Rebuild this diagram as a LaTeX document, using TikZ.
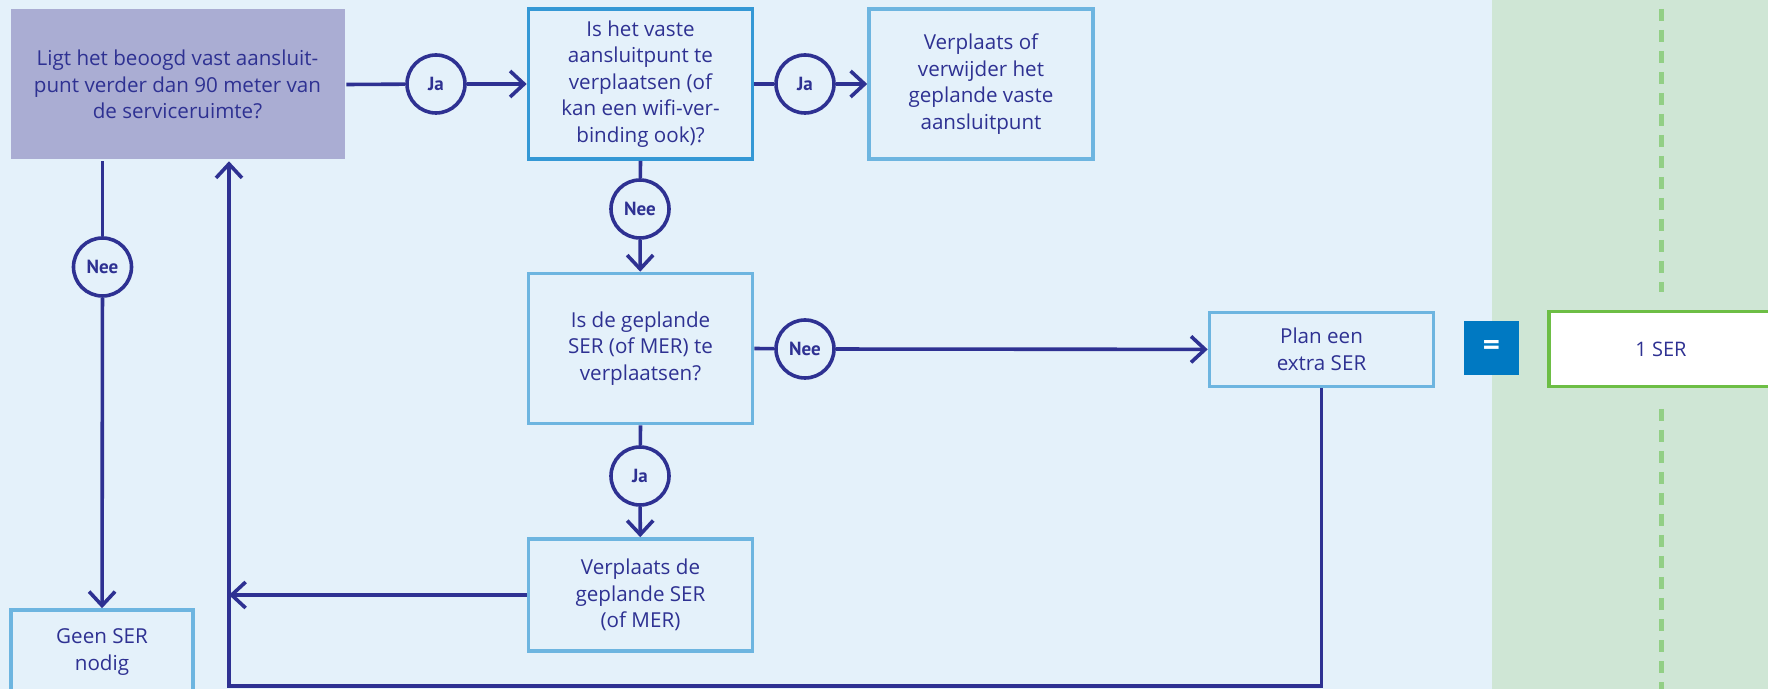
\documentclass[tikz,border=0pt]{standalone}
\usepackage{fontspec}
\setmainfont{Open Sans}
\newfontfamily\eenserfont{Open Sans}
\newfontfamily\keuzefont{PT Sans}
\usetikzlibrary{arrows.meta}
\definecolor{navy}{HTML}{2E3192}
\definecolor{achtergrond}{HTML}{E4F1FA}
\definecolor{groenvlak}{HTML}{CFE6D5}
\definecolor{paars}{HTML}{AAADD3}
\definecolor{donkerblauw}{HTML}{3498D5}
\definecolor{lichtblauw}{HTML}{6DB5E0}
\definecolor{kobalt}{HTML}{0079C2}
\definecolor{groen}{HTML}{6DBE45}
\definecolor{streep}{HTML}{92CF85}
\tikzset{
  >={Straight Barb[length=7pt,width=13pt]},
  {vraag/.style} ={draw=lichtblauw, line width=1.8pt, fill=achtergrond,
                   text=navy, align=center, inner sep=0,
                   minimum width=112pt, minimum height=75pt,
                   font=\fontsize{10.3}{13.3}\selectfont},
  {startvraag/.style} ={vraag, draw=none, fill=paars,
                   minimum width=167pt},
  {keuzevraag/.style} ={vraag, draw=donkerblauw},
  {keuze/.style} ={circle, draw=navy, line width=1.8pt, fill=achtergrond,
                   text=navy, inner sep=0, minimum size=29pt,
                   font=\keuzefont\bfseries\fontsize{9.5}{10}\selectfont},
  {lijn/.style} ={draw=navy, line width=1.8pt},
  {pijl/.style} ={lijn, ->},
  {gelijk/.style} ={fill=kobalt, text=white, inner sep=0,
                   minimum width=27.5pt, minimum height=27pt,
                   font=\bfseries\fontsize{15}{15}\selectfont},
  {uitkomst/.style} ={draw=groen, line width=1.8pt, fill=white, text=navy,
                   inner sep=0, minimum width=112pt, minimum height=37.5pt,
                   font=\eenserfont\fontsize{10}{12}\selectfont},
}

\begin{document}
\begin{tikzpicture}[x=0.5pt,y=-0.5pt]
\useasboundingbox (0,0) rectangle (1768,689);
\fill[achtergrond] (0,0) rectangle (1492,689);
\fill[groenvlak] (1492,0) rectangle (1768,689);
\draw[streep, line width=2.5pt, dash pattern=on 6pt off 4.5pt]
  (1661,9) -- (1661,292) (1661,409) -- (1661,689);

\node[startvraag] (afstand) at (177.5,84.5)
  {Ligt het beoogd vast aansluit-\\punt verder dan 90 meter van\\de serviceruimte?};
\node[keuzevraag] (verplaatsAP) at (640.5,84)
  {Is het vaste\\aansluitpunt te\\verplaatsen (of\\kan een wifi-ver-\\binding ook)?};
\node[vraag] (verwijderAP) at (981,84)
  {Verplaats of\\verwijder het\\geplande vaste\\aansluitpunt};
\node[vraag] (verplaatsSER) at (640.5,348.5)
  {Is de geplande\\SER (of MER) te\\verplaatsen?};
\node[vraag, minimum height=37pt] (extraSER) at (1321.5,349.5)
  {Plan een\\extra SER};
\node[vraag, minimum height=56pt] (verplaatsDe) at (640.5,595)
  {Verplaats de\\geplande SER\\(of MER)};
\node[vraag, minimum width=91pt, minimum height=42pt] (geenSER) at (102,652)
  {Geen SER\\nodig};
\node[gelijk] (is) at (1491.5,348) {=};
\node[uitkomst] (eenSER) at (1661,349) {1 SER};

\node[keuze] (ja1) at (436,84) {Ja};
\node[keuze] (ja2) at (805,84) {Ja};
\node[keuze] (ja3) at (640,476) {Ja};
\node[keuze] (nee1) at (102.5,267) {Nee};
\node[keuze] (nee2) at (640,209) {Nee};
\node[keuze] (nee3) at (805,349) {Nee};
\coordinate (hoek) at (229,686);
\coordinate (terug) at (229,595);

\path[lijn] (afstand.east) edge (ja1)
            (verplaatsAP.east) edge (ja2)
            (verplaatsAP.south) edge (nee2)
            (verplaatsSER.east) edge (nee3)
            (verplaatsSER.south) edge (ja3)
            (afstand.south -| nee1) edge (nee1);
\path[pijl] (ja1) edge (verplaatsAP)
            (ja2) edge (verwijderAP)
            (nee2) edge (verplaatsSER)
            (nee3) edge (extraSER)
            (ja3) edge (verplaatsDe)
            (nee1) edge (geenSER)
            (verplaatsDe) edge (terug);
\draw[pijl] (extraSER.south) |- (hoek) -- (afstand.south -| hoek);
\end{tikzpicture}
\end{document}
